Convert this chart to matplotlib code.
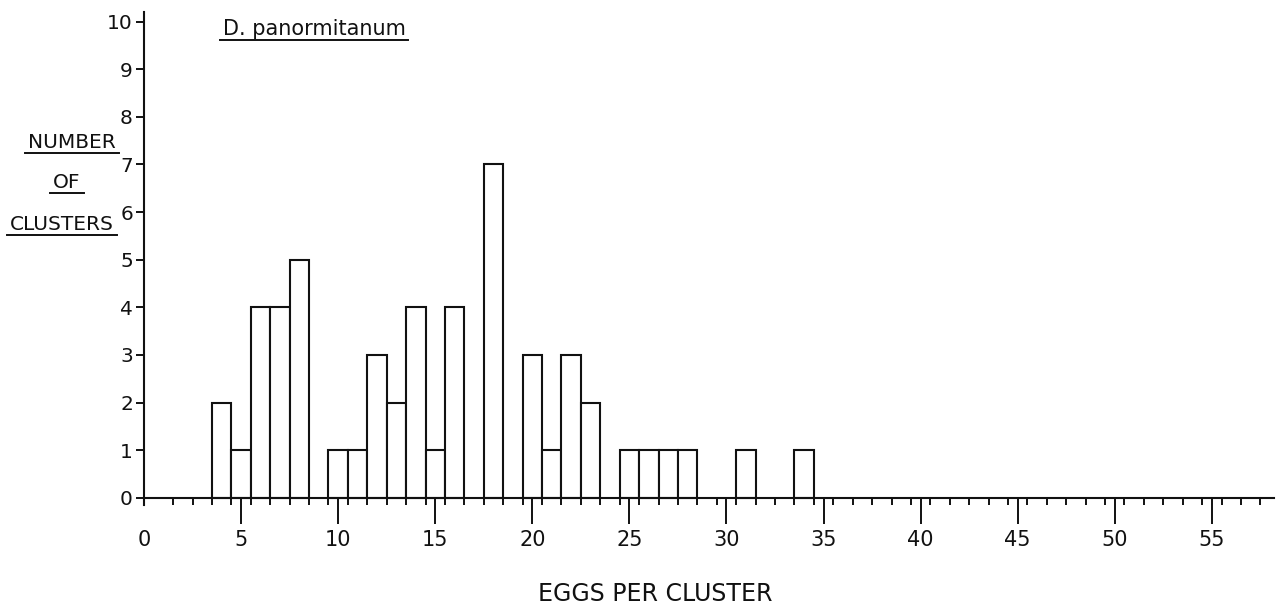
import matplotlib
matplotlib.use("Agg")
import matplotlib.pyplot as plt
from matplotlib.lines import Line2D
from matplotlib import font_manager
import numpy as np

# ---- data ----
eggs_per_cluster = [4, 5, 6, 7, 8, 10, 11, 12, 13, 14, 15, 16, 18, 20, 21, 22, 23, 25, 26, 27, 28, 31, 34]
n_clusters       = [2, 1, 4, 4, 5, 1, 1, 3, 2, 4, 1, 4, 7, 3, 1, 3, 2, 1, 1, 1, 1, 1, 1]
x_major_ticks = [0, 5, 10, 15, 20, 25, 30, 35, 40, 45, 50, 55]
y_ticks = [0, 1, 2, 3, 4, 5, 6, 7, 8, 9, 10]
title_text = "D. panormitanum"
ylabel_lines = ["NUMBER", "OF", "CLUSTERS"]
xlabel_text = "EGGS PER CLUSTER"

# ---- font ----
names = {f.name for f in font_manager.fontManager.ttflist}
if "Liberation Sans Narrow" in names:
    fam = ["Liberation Sans Narrow", "DejaVu Sans"]
else:
    fam = ["DejaVu Sans"]
plt.rcParams["font.family"] = fam

W, H = 1284, 606
fig = plt.figure(figsize=(W / 100, H / 100), dpi=100)
fig.patch.set_facecolor("white")

ax_left_px, ax_right_px = 144, 1274
ax_top_px, ax_bottom_px = 12, 505
ax = fig.add_axes([ax_left_px / W, 1 - ax_bottom_px / H,
                   (ax_right_px - ax_left_px) / W, (ax_bottom_px - ax_top_px) / H])

ink = "#111111"
lw = 1.5
ax.bar(eggs_per_cluster, n_clusters, width=1.0, align="center",
       facecolor="white", edgecolor=ink, linewidth=lw, zorder=2)

ax.set_xlim(0, 58.2)
ax.set_ylim(-0.15, 10.2)

for s in ["top", "right"]:
    ax.spines[s].set_visible(False)
ax.spines["bottom"].set_position(("data", 0))
ax.spines["bottom"].set_color(ink)
ax.spines["left"].set_color(ink)
ax.spines["bottom"].set_linewidth(lw)
ax.spines["left"].set_linewidth(lw)
ax.spines["bottom"].set_zorder(3)

ax.set_xticks(x_major_ticks)
ax.set_xticklabels([str(v) for v in x_major_ticks])
ax.set_xticks(np.arange(1.5, 58, 1.0), minor=True)
ax.tick_params(axis="x", which="major", direction="out", length=19, width=1.4,
               color=ink, labelsize=15, pad=4, labelcolor=ink)
ax.tick_params(axis="x", which="minor", direction="out", length=5, width=1.4, color=ink)
ax.xaxis.get_major_ticks()[0].tick1line.set_visible(False)

ax.set_yticks(y_ticks)
ax.set_yticklabels([str(v) for v in y_ticks])
ax.tick_params(axis="y", which="major", direction="out", length=6, width=1.4,
               color=ink, labelsize=14.5, pad=2, labelcolor=ink)

# ---- texts ----
def px(x, y_top):
    return x / W, 1 - y_top / H

t_title = fig.text(*px(314, 35), title_text, ha="center", va="baseline", fontsize=15, color=ink)
t_y = []
for label, cx, base in zip(ylabel_lines, [72, 67, 62], [148, 188, 230]):
    t_y.append(fig.text(*px(cx, base), label, ha="center", va="baseline", fontsize=14.5, color=ink))
fig.text(*px(655, 601), xlabel_text, ha="center", va="baseline", fontsize=17, color=ink)

fig.canvas.draw()
renderer = fig.canvas.get_renderer()
for t in [t_title] + t_y:
    bb = t.get_window_extent(renderer)
    y = bb.y0 - 1
    fig.add_artist(Line2D([(bb.x0 - 3) / W, (bb.x1 + 3) / W], [y / H, y / H],
                          transform=fig.transFigure, color=ink, linewidth=1.4))

fig.savefig("out.png", dpi=100, facecolor="white")
